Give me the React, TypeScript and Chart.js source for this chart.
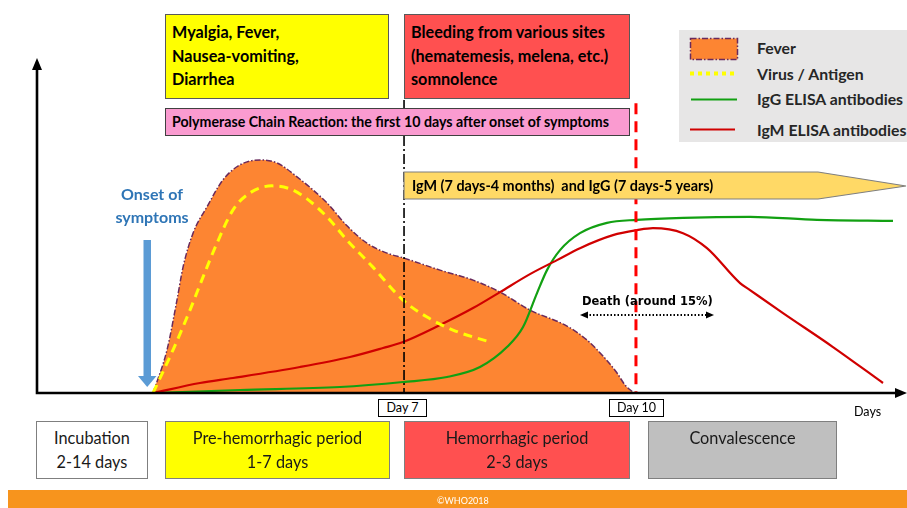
import React, { useEffect, useRef } from "react";
import { Chart, registerables } from "chart.js";
Chart.register(...registerables);

// Schematic time axis (0–100) and relative level (0–100)
const feverX = [13.25, 14.86, 16.01, 16.71, 17.86, 19.47, 21.31, 23.27, 25.58, 27.53, 29.84, 33.29, 35.6, 37.9, 40.21, 42.17, 46.31, 50.12, 53.23, 56.68, 60.94, 63.25, 65.09, 66.71, 67.63, 68.66];
const feverY = [0, 12.9, 27.9, 37.8, 48.0, 55.9, 64.0, 68.5, 70.0, 69.1, 64.9, 57.1, 50.2, 45.0, 42.0, 40.5, 36.9, 33.9, 30.3, 24.9, 20.1, 15.9, 11.1, 6.0, 2.4, 0];

const virusX = [13.25, 15.55, 17.51, 19.01, 20.62, 22.47, 24.42, 26.96, 29.03, 30.99, 33.29, 35.6, 38.59, 42.05, 44.82, 47.81, 52.07];
const virusY = [0, 12.9, 24.9, 34.8, 45.0, 55.0, 60.1, 62.2, 61.3, 58.3, 52.9, 45.9, 37.8, 27.9, 22.8, 18.9, 15.3];

const igmX = [13.25, 18.66, 22.47, 30.18, 35.94, 39.75, 42.05, 46.31, 50.12, 53.23, 56.68, 59.79, 62.44, 66.24, 69.01, 70.85, 74.31, 77.07, 80.88, 82.03, 85.83, 91.59, 97.35];
const igmY = [0, 3.0, 4.5, 7.8, 10.8, 13.5, 15.3, 20.4, 25.5, 30.3, 35.7, 39.9, 43.5, 47.4, 48.9, 49.5, 48.0, 43.5, 33.0, 30.9, 24.0, 13.8, 3.0];

const iggX = [13.25, 23.27, 34.79, 42.05, 47.12, 50.92, 54.03, 55.88, 57.49, 58.64, 60.14, 62.44, 65.55, 69.01, 74.31, 82.03, 89.75, 98.5];
const iggY = [0, 0.9, 1.8, 3.3, 4.8, 7.8, 13.8, 19.8, 30.0, 36.9, 42.9, 48.0, 51.1, 52.0, 52.6, 52.9, 52.0, 51.7];

const dayTickValues = [42.17, 68.89];
const dayTickLabels = ["Day 7", "Day 10"];
const dayLineTops = [88, 87];

const seriesLabels = ["Fever", "Virus / Antigen", "IgG ELISA antibodies", "IgM ELISA antibodies"];

const FONT = "Lato, 'Open Sans', sans-serif";

const pts = (xs: number[], ys: number[]) => xs.map((x, i) => ({ x, y: ys[i] }));

const overlayPlugin = {
  id: "overlay",
  afterDatasetsDraw(chart: any) {
    const { ctx, chartArea, scales } = chart;
    const xs = scales.x;
    const ys = scales.y;
    ctx.save();
    // Day 7 dash-dot line
    const x7 = xs.getPixelForValue(dayTickValues[0]);
    ctx.strokeStyle = "#000";
    ctx.lineWidth = 1.6;
    ctx.setLineDash([10, 3, 2, 3]);
    ctx.beginPath();
    ctx.moveTo(x7, ys.getPixelForValue(dayLineTops[0]));
    ctx.lineTo(x7, chartArea.bottom);
    ctx.stroke();
    // Day 10 red dashed
    const x10 = xs.getPixelForValue(dayTickValues[1]);
    ctx.strokeStyle = "#FF0000";
    ctx.lineWidth = 3;
    ctx.setLineDash([11, 7]);
    ctx.beginPath();
    ctx.moveTo(x10, ys.getPixelForValue(dayLineTops[1]));
    ctx.lineTo(x10, chartArea.bottom);
    ctx.stroke();
    ctx.setLineDash([]);
    // axes
    const ax = chartArea.left - 1;
    const ay = chartArea.bottom;
    ctx.strokeStyle = "#000";
    ctx.fillStyle = "#000";
    ctx.lineWidth = 2.6;
    ctx.beginPath();
    ctx.moveTo(ax, ay + 1.3);
    ctx.lineTo(ax, chartArea.top + 8);
    ctx.moveTo(ax - 1.3, ay);
    ctx.lineTo(chartArea.right - 8, ay);
    ctx.stroke();
    ctx.beginPath();
    ctx.moveTo(ax, chartArea.top - 2);
    ctx.lineTo(ax - 5, chartArea.top + 10);
    ctx.lineTo(ax + 5, chartArea.top + 10);
    ctx.closePath();
    ctx.fill();
    ctx.beginPath();
    ctx.moveTo(chartArea.right + 1, ay);
    ctx.lineTo(chartArea.right - 11, ay - 5);
    ctx.lineTo(chartArea.right - 11, ay + 5);
    ctx.closePath();
    ctx.fill();
    ctx.restore();
  },
};

function Box(props: { l: number; t: number; w: number; h: number; bg: string; border?: string; children?: any; style?: any }) {
  return (
    <div
      style={{
        position: "absolute",
        left: props.l,
        top: props.t,
        width: props.w,
        height: props.h,
        boxSizing: "border-box",
        background: props.bg,
        border: props.border || "1.5px solid #595959",
        fontFamily: FONT,
        ...props.style,
      }}
    >
      {props.children}
    </div>
  );
}

export default function App() {
  const ref = useRef<HTMLCanvasElement>(null);
  useEffect(() => {
    const chart = new Chart(ref.current as HTMLCanvasElement, {
      type: "line",
      data: {
        datasets: [
          {
            label: seriesLabels[1],
            data: pts(virusX, virusY),
            borderColor: "#FFFF00",
            borderWidth: 3,
            borderDash: [9, 6],
            pointRadius: 0,
            fill: false,
            cubicInterpolationMode: "monotone",
            order: 1,
          },
          {
            label: seriesLabels[3],
            data: pts(igmX, igmY),
            borderColor: "#D00000",
            borderWidth: 2.2,
            pointRadius: 0,
            fill: false,
            cubicInterpolationMode: "monotone",
            order: 2,
          },
          {
            label: seriesLabels[2],
            data: pts(iggX, iggY),
            borderColor: "#12A012",
            borderWidth: 2.2,
            pointRadius: 0,
            fill: false,
            cubicInterpolationMode: "monotone",
            order: 3,
          },
          {
            label: seriesLabels[0],
            data: pts(feverX, feverY),
            borderColor: "#6A2A5C",
            backgroundColor: "#FD8532",
            borderWidth: 1.5,
            borderDash: [6, 2, 1.5, 2],
            pointRadius: 0,
            fill: "origin",
            cubicInterpolationMode: "monotone",
            order: 4,
          },
        ],
      },
      options: {
        animation: false,
        responsive: false,
        devicePixelRatio: 1,
        layout: { padding: { left: 38, right: 1, top: 60, bottom: 115 } },
        plugins: { legend: { display: false }, tooltip: { enabled: false } },
        scales: {
          x: { type: "linear", min: 0, max: 100, display: false },
          y: { type: "linear", min: 0, max: 100, display: false },
        },
      },
      plugins: [overlayPlugin],
    } as any);
    return () => chart.destroy();
  }, []);

  const topText = { fontWeight: 700, fontSize: 16.2, lineHeight: "23.5px", color: "#000", padding: "5px 0 0 6px", whiteSpace: "nowrap" };
  const bottomText = { fontSize: 16.3, lineHeight: "24px", color: "#1a1a1a", textAlign: "center", paddingTop: 4 };
  const legendText = { position: "absolute", left: 78, fontWeight: 700, fontSize: 15.8, color: "#262626", whiteSpace: "nowrap", lineHeight: "18px" } as any;

  return (
    <div style={{ position: "fixed", left: 0, top: 0, width: 907, height: 508, background: "#fff", overflow: "hidden" }}>
      <canvas ref={ref} width={907} height={508} style={{ position: "absolute", left: 0, top: 0, width: 907, height: 508 }} />

      <svg width={907} height={508} style={{ position: "absolute", left: 0, top: 0 }}>
        {/* IgM / IgG banner */}
        <polygon points="404,172 818,172 906,186 818,199 404,199" fill="#FFD966" stroke="#7F7F7F" strokeWidth={1.2} />
        {/* Onset arrow */}
        <rect x={143.5} y={240} width={7.5} height={136} fill="#5B9BD5" />
        <polygon points="138,376 156.5,376 147.2,387" fill="#5B9BD5" />
        {/* Death arrow */}
        <line x1={586} y1={315} x2={708} y2={315} stroke="#000" strokeWidth={2} strokeDasharray="1.5,2" />
        <polygon points="580,315 588,311.5 588,318.5" fill="#000" />
        <polygon points="714,315 706,311.5 706,318.5" fill="#000" />
      </svg>

      {/* Top symptom boxes */}
      <Box l={165} t={14} w={224} h={85} bg="#FFFF00" style={topText}>
        Myalgia, Fever,<br />Nausea-vomiting,<br />Diarrhea
      </Box>
      <Box l={404} t={14} w={226} h={85} bg="#FF5050" style={topText}>
        Bleeding from various sites<br />(hematemesis, melena, etc.)<br />somnolence
      </Box>
      <Box l={165} t={108} w={465} h={28} bg="#FA9BD0" border="1.5px solid #404040"
        style={{ fontWeight: 700, fontSize: 14.2, lineHeight: "25px", paddingLeft: 6, color: "#000", whiteSpace: "nowrap" }}>
        Polymerase Chain Reaction: the first 10 days after onset of symptoms
      </Box>

      {/* Banner text */}
      <div style={{ position: "absolute", left: 412, top: 176, fontFamily: FONT, fontWeight: 700, fontSize: 14.4, lineHeight: "20px", color: "#000", whiteSpace: "pre" }}>
        {"IgM (7 days-4 months)  and IgG (7 days-5 years)"}
      </div>

      {/* Legend */}
      <div style={{ position: "absolute", left: 679, top: 30, width: 240, height: 112, background: "#E7E6E6", fontFamily: FONT }}>
        <svg width={60} height={112} style={{ position: "absolute", left: 0, top: 0 }}>
          <rect x={11.5} y={8.5} width={47} height={21} fill="#FD8532" stroke="#6A2A5C" strokeWidth={1.5} strokeDasharray="6,2,1.5,2" />
          <line x1={11} y1={43.5} x2={58} y2={43.5} stroke="#FFFF00" strokeWidth={4} strokeDasharray="4,4" />
          <line x1={12} y1={69.5} x2={58} y2={69.5} stroke="#12A012" strokeWidth={2} />
          <line x1={11} y1={99.5} x2={56} y2={99.5} stroke="#D00000" strokeWidth={2} />
        </svg>
        <div style={{ ...legendText, top: 9 }}>{seriesLabels[0]}</div>
        <div style={{ ...legendText, top: 35 }}>{seriesLabels[1]}</div>
        <div style={{ ...legendText, top: 60 }}>{seriesLabels[2]}</div>
        <div style={{ ...legendText, top: 91 }}>{seriesLabels[3]}</div>
      </div>

      {/* Onset of symptoms */}
      <div style={{ position: "absolute", left: 92, top: 182, width: 120, textAlign: "center", fontFamily: FONT, fontWeight: 700, fontSize: 16, lineHeight: "23px", color: "#2E75B6" }}>
        Onset of<br />symptoms
      </div>

      {/* Death */}
      <div style={{ position: "absolute", left: 582, top: 293, fontFamily: "'DejaVu Sans', sans-serif", fontWeight: 700, fontSize: 11.5, lineHeight: "16px", color: "#000", whiteSpace: "nowrap" }}>
        Death (around 15%)
      </div>

      {/* Day ticks */}
      <Box l={378} t={399} w={49} h={18} bg="#fff" border="1px solid #000"
        style={{ fontSize: 12.5, lineHeight: "16px", textAlign: "center", color: "#000" }}>
        {dayTickLabels[0]}
      </Box>
      <Box l={609} t={399} w={55} h={18} bg="#fff" border="1px solid #000"
        style={{ fontSize: 12.5, lineHeight: "16px", textAlign: "center", color: "#000" }}>
        {dayTickLabels[1]}
      </Box>
      <div style={{ position: "absolute", left: 854, top: 404, fontFamily: FONT, fontSize: 12.5, lineHeight: "16px", color: "#000" }}>Days</div>

      {/* Period boxes */}
      <Box l={36} t={421} w={112} h={58} bg="#fff" border="1.5px solid #7F7F7F" style={bottomText}>
        Incubation<br />2-14 days
      </Box>
      <Box l={165} t={421} w={225} h={58} bg="#FFFF00" border="1.5px solid #7F7F7F" style={bottomText}>
        Pre-hemorrhagic period<br />1-7 days
      </Box>
      <Box l={404} t={421} w={226} h={58} bg="#FF5050" border="1.5px solid #7F7F7F" style={bottomText}>
        Hemorrhagic period<br />2-3 days
      </Box>
      <Box l={648} t={421} w={189} h={58} bg="#BFBFBF" border="1.5px solid #7F7F7F" style={bottomText}>
        Convalescence
      </Box>

      {/* Footer */}
      <div style={{ position: "absolute", left: 8, top: 490, width: 899, height: 18, background: "#F7941D" }}>
        <div style={{ position: "absolute", left: 429, top: 6, fontFamily: FONT, fontSize: 9, lineHeight: "10px", color: "#fff" }}>©WHO2018</div>
      </div>
    </div>
  );
}
